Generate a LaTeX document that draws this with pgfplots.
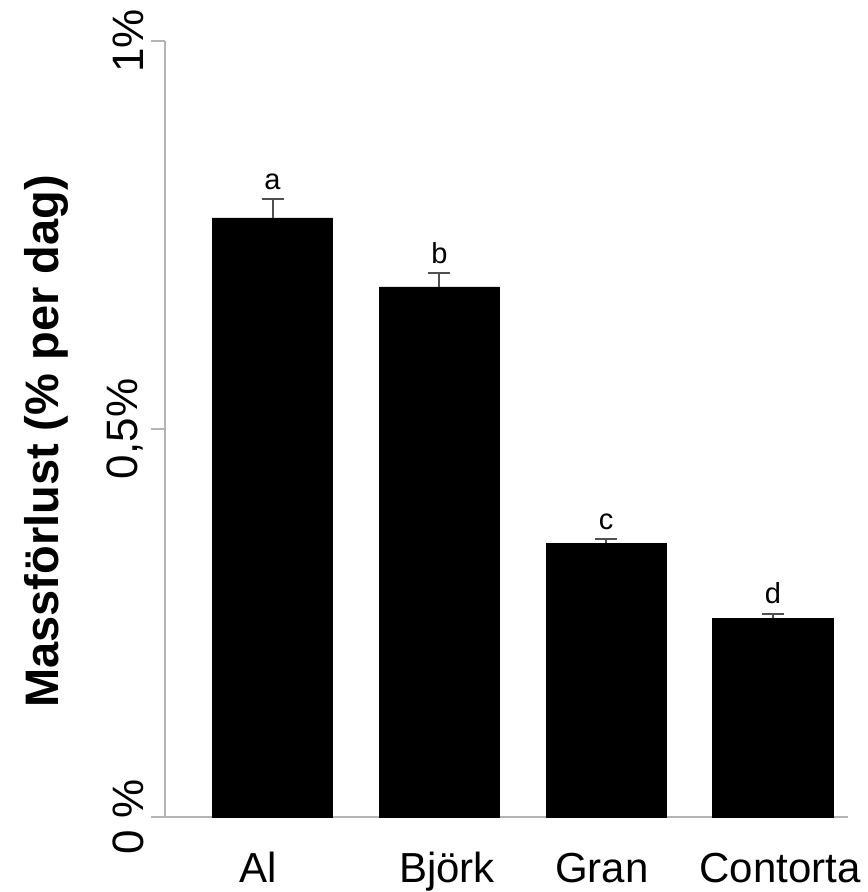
\documentclass[border=0pt]{standalone}
\usepackage{pgfplots}
\pgfplotsset{compat=1.18}
\usepackage{fontspec}
\setmainfont{Liberation Sans}
\definecolor{axgray}{HTML}{B4B4B4}
\definecolor{errgray}{HTML}{505050}
\begin{document}
\begin{tikzpicture}
\useasboundingbox (-82.5pt,-37.5pt) rectangle (351pt,408.5pt);
\begin{axis}[
  scale only axis,
  width=341.5pt, height=388pt,
  xmin=-0.6445, xmax=3.45,
  ymin=0, ymax=1,
  axis lines=left,
  axis line style={draw=axgray, line width=1.2pt, -},
  ytick={0,0.5,1},
  yticklabels={0 \%, {0,5\%\hspace{12pt}}, 1\%},
  ytick style={draw=axgray, line width=1pt},
  tick align=outside,
  major tick length=7pt,
  yticklabel style={xshift=-2.5pt, rotate=90, anchor=south, font=\fontsize{22pt}{24pt}\selectfont, inner sep=1pt},
  xtick={-0.087,1.046,1.975,3.043},
  xticklabels={Al, Björk, Gran, Contorta},
  xtick style={draw=none},
  xticklabel style={anchor=base, yshift=-25.5pt, font=\fontsize{21pt}{23pt}\selectfont},
  /pgf/number format/assume math mode=true,
  ylabel={\textbf{Massförlust (\% per dag)}},
  ylabel style={at={(axis description cs:-0.174,0.484)}, anchor=center, font=\fontsize{23.5pt}{26pt}\selectfont},
  clip=false,
]
\addplot[ybar, bar width=0.72, fill=black, draw=black,
  error bars/.cd, y dir=plus, y explicit,
  error bar style={draw=errgray, line width=1pt},
  error mark options={rotate=90, mark size=5.5pt, draw=errgray, line width=1pt}]
  table[x=x, y=y, y error=e] {
  x y e
  0 0.772 0.024
  1 0.683 0.018
  2 0.353 0.005
  3 0.256 0.006
};
\node[anchor=base, font=\fontsize{14.5pt}{16pt}\selectfont, yshift=5pt] at (axis cs:0,0.796) {a};
\node[anchor=base, font=\fontsize{14.5pt}{16pt}\selectfont, yshift=5pt] at (axis cs:1,0.701) {b};
\node[anchor=base, font=\fontsize{14.5pt}{16pt}\selectfont, yshift=5pt] at (axis cs:2,0.358) {c};
\node[anchor=base, font=\fontsize{14.5pt}{16pt}\selectfont, yshift=5pt] at (axis cs:3,0.262) {d};
\end{axis}
\end{tikzpicture}
\end{document}
